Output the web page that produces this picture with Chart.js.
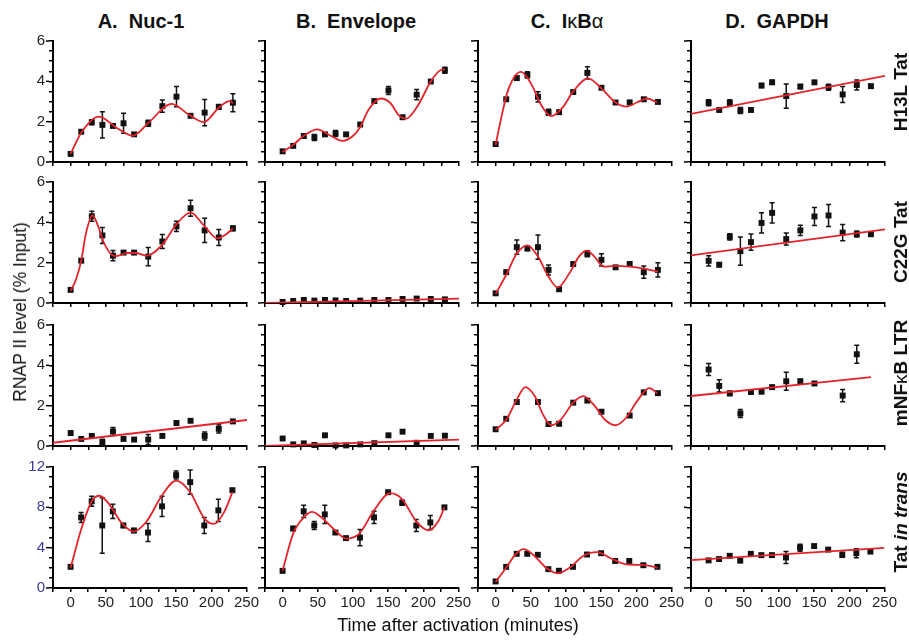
<!DOCTYPE html>
<html>
<head>
<meta charset="utf-8">
<script src="https://cdn.jsdelivr.net/npm/chart.js@4.4.1/dist/chart.umd.min.js"></script>
<style>
    body { margin: 0; background: #fff; }
    #figure {
        position: relative;
        width: 909px;
        height: 641px;
        font-family: Arial, "Liberation Sans", sans-serif;
        color: #111;
        overflow: hidden;
    }
    #figure canvas { position: absolute; }
    .col-title {
        position: absolute;
        top: 11px;
        line-height: 20px;
        font-size: 20px;
        font-weight: bold;
        white-space: pre;
        transform: translateX(-50%);
    }
    .row-label, .axis-title {
        position: absolute;
        white-space: pre;
        line-height: 20px;
    }
    .row-label {
        left: 901px;
        font-size: 19px;
        font-weight: bold;
        transform: translate(-50%, -50%) rotate(-90deg);
    }
    .axis-title { font-size: 18px; transform: translate(-50%, -50%); }
    .axis-title.vertical { font-size: 17.5px; transform: translate(-50%, -50%) rotate(-90deg); }
    .greek { font-weight: normal; }
</style>
</head>
<body>
<div id="figure">
    <div class="col-title" style="left:141px">A.  Nuc-1</div>
    <div class="col-title" style="left:356px">B.  Envelope</div>
    <div class="col-title" style="left:567px">C.  I<span class="greek">κ</span>B<span class="greek">α</span></div>
    <div class="col-title" style="left:777px">D.  GAPDH</div>
</div>
<script>
// sampling times (minutes), shared by every panel
const minutes = [0, 15, 30, 45, 60, 75, 90, 110, 130, 150, 170, 190, 210, 230];

// A. Nuc-1
const nuc1H13L = [0.4, 1.5, 1.97, 1.84, 1.79, 1.92, 1.37, 1.92, 2.77, 3.24, 2.29, 2.45, 2.73, 2.94];
const nuc1H13LErr = [0, 0, 0.12, 0.65, 0.08, 0.5, 0, 0.15, 0.3, 0.5, 0, 0.65, 0.12, 0.45];
const nuc1H13LFit = [[0, 0.4], [15, 1.45], [40, 2.25], [65, 1.7], [88, 1.3], [112, 2.0], [143, 2.88], [168, 2.34], [189, 1.98], [210, 2.69], [225, 3.02], [230, 2.92]];

const nuc1C22G = [0.65, 2.1, 4.3, 3.35, 2.35, 2.5, 2.5, 2.3, 3.05, 3.8, 4.7, 3.6, 3.25, 3.7];
const nuc1C22GErr = [0, 0, 0.25, 0.4, 0.25, 0.08, 0.08, 0.45, 0.35, 0.25, 0.4, 0.6, 0.4, 0.12];
const nuc1C22GFit = [[0, 0.6], [8, 1.2], [15, 2.1], [22, 3.5], [31, 4.35], [38, 3.9], [47, 3.0], [58, 2.4], [65, 2.33], [80, 2.48], [92, 2.48], [108, 2.35], [130, 2.9], [150, 3.9], [170, 4.48], [190, 3.8], [208, 3.2], [220, 3.4], [230, 3.7]];

const nuc1Mnfkb = [0.64, 0.35, 0.5, 0.19, 0.72, 0.35, 0.32, 0.32, 0.5, 1.14, 1.25, 0.5, 0.85, 1.22];
const nuc1MnfkbErr = [0.08, 0, 0, 0.15, 0.2, 0, 0, 0.25, 0, 0, 0, 0.2, 0.2, 0.05];
const nuc1MnfkbFit = [[-25, 0.16], [250, 1.29]];

const nuc1Trans = [2.1, 7.0, 8.6, 6.2, 7.6, 6.2, 5.7, 5.5, 8.1, 11.2, 10.5, 6.2, 7.7, 9.7];
const nuc1TransErr = [0, 0.5, 0.5, 2.75, 0.7, 0.2, 0.2, 0.9, 1.0, 0.4, 1.2, 0.8, 1.1, 0.15];
const nuc1TransFit = [[0, 2.0], [15, 5.8], [30, 8.6], [41, 9.15], [55, 8.3], [72, 6.5], [89, 5.6], [108, 6.6], [130, 9.2], [150, 10.65], [170, 9.5], [190, 6.9], [204, 6.35], [218, 7.5], [230, 9.5]];

// B. Envelope
const envH13L = [0.53, 0.8, 1.29, 1.21, 1.37, 1.41, 1.37, 1.86, 3.02, 3.55, 2.22, 3.34, 3.99, 4.55];
const envH13LErr = [0, 0, 0.08, 0.15, 0, 0.15, 0.06, 0, 0.05, 0.2, 0, 0.25, 0, 0.15];
const envH13LFit = [[0, 0.5], [15, 0.85], [30, 1.3], [49, 1.62], [68, 1.3], [85, 1.05], [100, 1.3], [110, 1.74], [122, 2.6], [139, 3.15], [152, 2.95], [165, 2.3], [175, 2.15], [190, 2.7], [210, 3.99], [222, 4.52], [230, 4.6]];

const envC22G = [0.05, 0.1, 0.15, 0.12, 0.15, 0.13, 0.1, 0.12, 0.15, 0.15, 0.2, 0.22, 0.2, 0.18];
const envC22GErr = [0, 0, 0.05, 0.05, 0.05, 0, 0, 0, 0.05, 0, 0.06, 0.06, 0.05, 0.05];
const envC22GFit = [[-25, 0.0], [250, 0.22]];

const envMnfkb = [0.37, 0.08, 0.13, 0.05, 0.53, 0.03, 0.03, 0.08, 0.14, 0.53, 0.71, 0.16, 0.5, 0.51];
const envMnfkbErr = [0, 0, 0, 0, 0.05, 0, 0, 0, 0, 0, 0, 0, 0, 0];
const envMnfkbFit = [[-25, 0.0], [250, 0.32]];

const envTrans = [1.7, 5.9, 7.6, 6.2, 7.3, 5.5, 4.95, 5.0, 7.0, 9.5, 8.45, 6.2, 6.5, 8.0];
const envTransErr = [0, 0.2, 0.6, 0.4, 0.9, 0, 0.1, 0.8, 0.6, 0.1, 0.25, 0.6, 0.7, 0.1];
const envTransFit = [[0, 1.7], [15, 5.4], [30, 7.0], [42, 7.55], [60, 6.7], [75, 5.7], [90, 4.9], [109, 5.4], [130, 7.7], [153, 9.4], [170, 8.8], [190, 6.6], [207, 5.72], [222, 6.7], [230, 8.0]];

// C. IkBa
const ikbaH13L = [0.89, 3.11, 4.16, 4.32, 3.23, 2.47, 2.47, 3.47, 4.42, 3.68, 2.95, 2.95, 3.11, 2.98];
const ikbaH13LErr = [0.05, 0, 0.08, 0.15, 0.25, 0.15, 0, 0, 0.3, 0, 0, 0.1, 0, 0.08];
const ikbaH13LFit = [[0, 0.85], [8, 2.2], [18, 3.6], [36, 4.47], [50, 3.9], [65, 2.8], [79, 2.27], [95, 2.7], [110, 3.5], [131, 4.15], [150, 3.65], [170, 2.95], [186, 2.75], [200, 2.95], [215, 3.15], [229, 2.95]];

const ikbaC22G = [0.48, 1.53, 2.77, 2.7, 2.77, 1.64, 0.68, 1.93, 2.44, 2.14, 1.77, 1.93, 1.53, 1.64];
const ikbaC22GErr = [0.05, 0, 0.35, 0.1, 0.6, 0.25, 0.05, 0.1, 0.15, 0.3, 0.05, 0.1, 0.3, 0.35];
const ikbaC22GFit = [[0, 0.45], [15, 1.4], [30, 2.45], [45, 2.86], [60, 2.3], [75, 1.3], [88, 0.77], [105, 1.5], [118, 2.3], [129, 2.6], [140, 2.3], [153, 1.8], [170, 1.84], [190, 1.8], [210, 1.7], [230, 1.55]];

const ikbaMnfkb = [0.83, 1.35, 2.18, null, 2.18, 1.09, 1.1, 2.15, 2.25, 1.7, null, 1.51, 2.66, 2.62];
const ikbaMnfkbErr = [0, 0, 0, 0, 0, 0, 0, 0, 0, 0, 0, 0, 0, 0];
const ikbaMnfkbFit = [[0, 0.8], [15, 1.3], [30, 2.3], [42, 2.92], [55, 2.5], [68, 1.5], [79, 1.03], [92, 1.3], [110, 2.15], [124, 2.47], [140, 2.0], [155, 1.3], [170, 1.03], [185, 1.4], [200, 2.2], [218, 2.87], [229, 2.62]];

const ikbaTrans = [0.65, 2.1, 3.39, 3.39, 3.29, 1.87, 1.71, 2.1, 3.32, 3.45, 2.68, 2.68, 2.26, 2.1];
const ikbaTransErr = [0, 0, 0, 0, 0, 0, 0, 0, 0, 0, 0, 0, 0, 0];
const ikbaTransFit = [[0, 0.6], [15, 2.0], [28, 3.3], [40, 3.85], [55, 3.2], [72, 2.0], [88, 1.45], [105, 2.0], [125, 3.2], [144, 3.55], [165, 2.9], [185, 2.35], [200, 2.3], [215, 2.25], [230, 2.0]];

// D. GAPDH
const gapdhH13L = [2.94, 2.58, 2.94, 2.55, 2.58, 3.79, 3.95, 3.27, 3.74, 3.95, 3.71, 3.35, 3.82, 3.76];
const gapdhH13LErr = [0.15, 0.05, 0.15, 0.15, 0.05, 0.1, 0.1, 0.6, 0.1, 0.08, 0.15, 0.4, 0.25, 0.08];
const gapdhH13LFit = [[-25, 2.39], [250, 4.27]];

const gapdhC22G = [2.09, 1.9, 3.28, 2.57, 3.02, 3.97, 4.47, 3.17, 3.6, 4.29, 4.34, 3.49, 3.42, 3.41];
const gapdhC22GErr = [0.25, 0.1, 0.15, 0.7, 0.4, 0.5, 0.5, 0.3, 0.25, 0.45, 0.55, 0.4, 0.15, 0.05];
const gapdhC22GFit = [[-25, 2.36], [250, 3.65]];

const gapdhMnfkb = [3.79, 2.98, 2.61, 1.61, 2.68, 2.69, 2.92, 3.21, 3.21, 3.1, null, 2.5, 4.55, null];
const gapdhMnfkbErr = [0.3, 0.3, 0.1, 0.2, 0.1, 0.05, 0.05, 0.45, 0.1, 0.05, 0, 0.3, 0.45, 0];
const gapdhMnfkbFit = [[-25, 2.48], [230, 3.42]];

const gapdhTrans = [2.74, 2.87, 3.19, 2.71, 3.39, 3.26, 3.26, 3.03, 4.0, 4.16, 3.81, 3.29, 3.45, 3.61];
const gapdhTransErr = [0.1, 0.1, 0.1, 0.1, 0.1, 0.1, 0.1, 0.6, 0.35, 0.1, 0.1, 0.25, 0.45, 0.1];
const gapdhTransFit = [[-25, 2.77], [250, 3.97]];

const rowLabels = ["H13L Tat", "C22G Tat", "mNF<span class=\"greek\">κ</span>B LTR", "Tat <i>in trans</i>"];
const yMax = [6, 6, 6, 12];
const yStep = [0.5, 0.5, 0.5, 1];
const yLabelEvery = [2, 2, 2, 4];
const xLabels = [0, 50, 100, 150, 200, 250];

// rows of [values, errors, fit] per column
const PANELS = [
    [[nuc1H13L, nuc1H13LErr, nuc1H13LFit], [envH13L, envH13LErr, envH13LFit], [ikbaH13L, ikbaH13LErr, ikbaH13LFit], [gapdhH13L, gapdhH13LErr, gapdhH13LFit]],
    [[nuc1C22G, nuc1C22GErr, nuc1C22GFit], [envC22G, envC22GErr, envC22GFit], [ikbaC22G, ikbaC22GErr, ikbaC22GFit], [gapdhC22G, gapdhC22GErr, gapdhC22GFit]],
    [[nuc1Mnfkb, nuc1MnfkbErr, nuc1MnfkbFit], [envMnfkb, envMnfkbErr, envMnfkbFit], [ikbaMnfkb, ikbaMnfkbErr, ikbaMnfkbFit], [gapdhMnfkb, gapdhMnfkbErr, gapdhMnfkbFit]],
    [[nuc1Trans, nuc1TransErr, nuc1TransFit], [envTrans, envTransErr, envTransFit], [ikbaTrans, ikbaTransErr, ikbaTransFit], [gapdhTrans, gapdhTransErr, gapdhTransFit]],
];

// plot-area placement of each column / row in the page
const COL_LEFT = [53, 265, 478, 691];
const ROW_TOP = [38, 179, 322, 464];
const PLOT_W = 194;
const PLOT_H = 124;
const PAD_LEFT = 50;
const PAD_TOP = 10;
const PAD_RIGHT = 14;
const PAD_BOTTOM = 30;

const FONT = "Arial, 'Liberation Sans', sans-serif";

const errorBars = {
    id: "errorBars",
    beforeDatasetsDraw(chart) {
        const { ctx } = chart;
        const x = chart.scales.x;
        const y = chart.scales.y;
        ctx.save();
        ctx.strokeStyle = "#111";
        ctx.lineWidth = 1.5;
        chart.data.datasets[1].data.forEach((p) => {
            if (!p.err) return;
            const px = x.getPixelForValue(p.x);
            const top = y.getPixelForValue(p.y + p.err);
            const bottom = y.getPixelForValue(p.y - p.err);
            ctx.beginPath();
            ctx.moveTo(px, top);
            ctx.lineTo(px, bottom);
            ctx.moveTo(px - 2.5, top);
            ctx.lineTo(px + 2.5, top);
            ctx.moveTo(px - 2.5, bottom);
            ctx.lineTo(px + 2.5, bottom);
            ctx.stroke();
        });
        ctx.restore();
    },
};

// labelled y ticks are a little longer than the minor ones
const majorTicks = {
    id: "majorTicks",
    afterDraw(chart, args, opts) {
        const { ctx } = chart;
        const y = chart.scales.y;
        ctx.save();
        ctx.strokeStyle = "#000";
        ctx.lineWidth = 1.5;
        y.ticks.forEach((t) => {
            if (t.value % opts.every !== 0) return;
            const py = y.getPixelForValue(t.value);
            ctx.beginPath();
            ctx.moveTo(y.right - 4, py);
            ctx.lineTo(y.right - 7, py);
            ctx.stroke();
        });
        ctx.restore();
    },
};

const figure = document.getElementById("figure");

const makePanel = (row, col) => {
    const [values, errs, fit] = PANELS[row][col];

    const canvas = document.createElement("canvas");
    canvas.width = PAD_LEFT + PLOT_W + PAD_RIGHT;
    canvas.height = PAD_TOP + PLOT_H + PAD_BOTTOM;
    canvas.style.left = COL_LEFT[col] - PAD_LEFT + "px";
    canvas.style.top = ROW_TOP[row] - PAD_TOP + "px";
    figure.appendChild(canvas);

    const points = minutes
        .map((m, i) => ({ x: m, y: values[i], err: errs[i] }))
        .filter((p) => p.y !== null);

    new Chart(canvas, {
        type: "scatter",
        data: {
            datasets: [
                {
                    type: "line",
                    data: fit.map(([x, y]) => ({ x, y })),
                    borderColor: "#e3232a",
                    borderWidth: 1.8,
                    pointRadius: 0,
                    fill: false,
                    cubicInterpolationMode: "monotone",
                },
                {
                    data: points,
                    pointStyle: "rect",
                    pointRadius: 4.2,
                    backgroundColor: "#111",
                    borderWidth: 0,
                    clip: false,
                },
            ],
        },
        options: {
            responsive: false,
            animation: false,
            events: [],
            layout: { padding: { top: PAD_TOP, right: PAD_RIGHT, left: 0, bottom: 0 } },
            plugins: {
                legend: { display: false },
                tooltip: { enabled: false },
                majorTicks: { every: yLabelEvery[row] },
            },
            scales: {
                x: {
                    type: "linear",
                    min: -25,
                    max: 250,
                    afterFit: (s) => { s.height = PAD_BOTTOM; },
                    ticks: {
                        stepSize: 25,
                        autoSkip: false,
                        maxRotation: 0,
                        padding: 2,
                        color: "#222",
                        font: { family: FONT, size: 15 },
                        callback: (v) => (row === 3 && xLabels.includes(v) ? String(v) : ""),
                    },
                    grid: { drawOnChartArea: false, tickLength: 4, color: "#000", lineWidth: 1.5 },
                    border: { color: "#000", width: 2 },
                },
                y: {
                    min: 0,
                    max: yMax[row],
                    afterFit: (s) => { s.width = PAD_LEFT; },
                    ticks: {
                        stepSize: yStep[row],
                        autoSkip: false,
                        padding: 4,
                        color: row === 3 ? "#3b3b9c" : "#222",
                        font: { family: FONT, size: 15 },
                        callback: (v) => (col === 0 && v % yLabelEvery[row] === 0 ? String(v) : ""),
                    },
                    grid: { drawOnChartArea: false, tickLength: 4, color: "#000", lineWidth: 1.5 },
                    border: { color: "#000", width: 2 },
                },
            },
        },
        plugins: [errorBars, majorTicks],
    });
};

PANELS.forEach((cols, row) => cols.forEach((_, col) => makePanel(row, col)));

// row labels on the right
const ROW_CENTER = [92, 242, 373, 522];
rowLabels.forEach((label, i) => {
    const div = document.createElement("div");
    div.className = "row-label";
    div.style.top = ROW_CENTER[i] + "px";
    div.innerHTML = label;
    figure.appendChild(div);
});

const yTitle = document.createElement("div");
yTitle.className = "axis-title vertical";
yTitle.style.left = "20px";
yTitle.style.top = "312px";
yTitle.textContent = "RNAP II level (% Input)";
figure.appendChild(yTitle);

const xTitle = document.createElement("div");
xTitle.className = "axis-title";
xTitle.style.left = "458px";
xTitle.style.top = "625px";
xTitle.textContent = "Time after activation (minutes)";
figure.appendChild(xTitle);
</script>
</body>
</html>
